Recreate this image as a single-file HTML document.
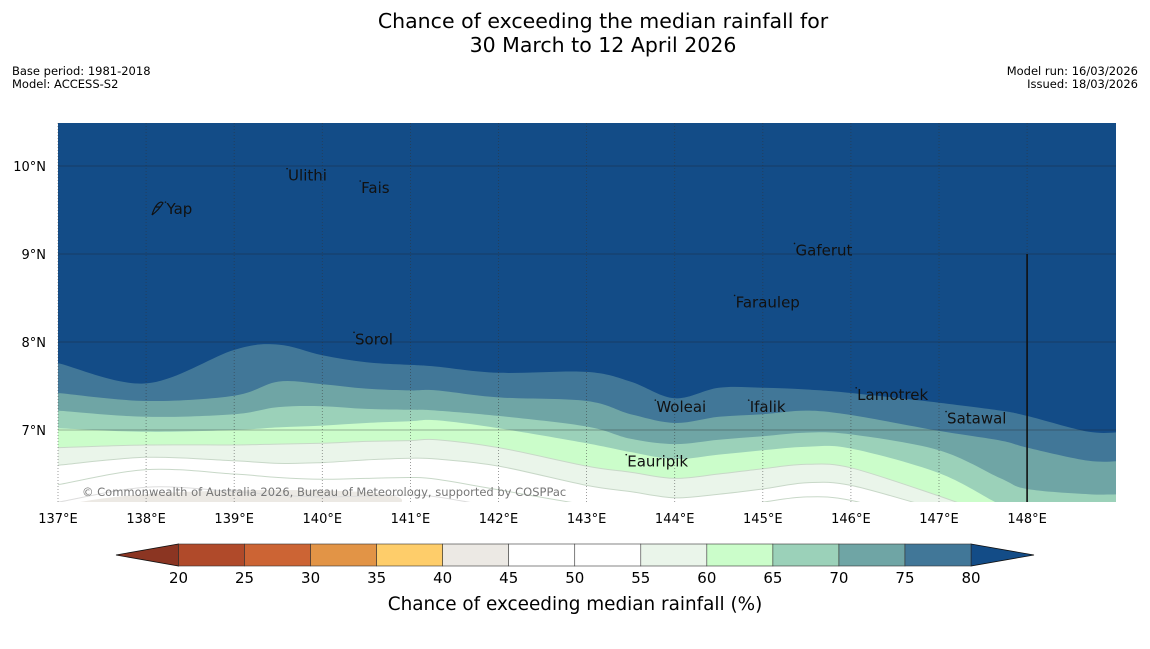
<!DOCTYPE html>
<html><head><meta charset="utf-8">
<style>
body{margin:0;background:#fff;font-family:"Liberation Sans","DejaVu Sans",sans-serif;}
svg text{font-family:"DejaVu Sans","Liberation Sans",sans-serif;}
</style></head>
<body>
<svg id="c" width="1150" height="644" xmlns="http://www.w3.org/2000/svg">
<rect width="1150" height="644" fill="#fff"/>
<text x="603" y="28" font-size="20.5" text-anchor="middle">Chance of exceeding the median rainfall for</text>
<text x="603" y="52" font-size="20.5" text-anchor="middle">30 March to 12 April 2026</text>
<text x="12" y="75" font-size="11.5">Base period: 1981-2018</text>
<text x="12" y="88" font-size="11.5">Model: ACCESS-S2</text>
<text x="1138" y="75" font-size="11.5" text-anchor="end">Model run: 16/03/2026</text>
<text x="1138" y="88" font-size="11.5" text-anchor="end">Issued: 18/03/2026</text>
<defs><clipPath id="mc"><rect x="58" y="123" width="1058" height="379"/></clipPath></defs>
<g id="map" clip-path="url(#mc)"></g>
<g id="over"></g>
<g id="cb"></g>
</svg>
<script>
const lineLons = [136.9,137,138,139,139.5,140,140.5,141,141.3,142,143,143.5,144,144.5,145,145.5,146,147,147.7,148,148.7,149.1];
const b80 = [7.77,7.76,7.53,7.91,7.97,7.85,7.77,7.74,7.72,7.65,7.66,7.55,7.36,7.48,7.48,7.46,7.42,7.31,7.22,7.16,6.98,6.98];
const b75 = [7.42,7.42,7.33,7.39,7.55,7.52,7.47,7.45,7.45,7.37,7.33,7.18,7.08,7.15,7.18,7.22,7.17,6.99,6.88,6.80,6.65,6.65];
const b70 = [7.22,7.22,7.15,7.18,7.26,7.27,7.24,7.23,7.22,7.16,7.04,6.90,6.84,6.89,6.93,6.97,6.95,6.77,6.45,6.33,6.27,6.27];
const b65 = [7.02,7.02,6.98,7.00,7.03,7.05,7.08,7.10,7.11,7.02,6.85,6.75,6.67,6.72,6.77,6.81,6.79,6.51,6.15,6.05,6.0,6.0];
const b60 = [6.80,6.80,6.83,6.83,6.84,6.85,6.87,6.88,6.89,6.80,6.59,6.52,6.45,6.50,6.56,6.61,6.57,6.25,6.0,5.95,5.9,5.9];
const b55 = [6.60,6.60,6.69,6.65,6.62,6.63,6.66,6.68,6.67,6.59,6.37,6.30,6.23,6.27,6.33,6.40,6.37,6.10,5.95,5.9,5.9,5.9];
const b50 = [6.38,6.38,6.55,6.50,6.46,6.44,6.45,6.46,6.44,6.32,6.15,6.10,6.05,6.10,6.18,6.24,6.20,5.95,5.9,5.9,5.9,5.9];
const bandColors = ["#134c87","#417798","#6fa5a5","#9bd1b9","#cbfdca","#eaf5ea","#ffffff","#ffffff"];
const lonTicks = [137,138,139,140,141,142,143,144,145,146,147,148];
const latTicks = [7,8,9,10];
const places = ["Yap","Ulithi","Fais","Gaferut","Faraulep","Sorol","Lamotrek","Woleai","Ifalik","Satawal","Eauripik"];
const placeLon = [138.22,139.60,140.43,145.36,144.68,140.36,146.06,143.78,144.84,147.08,143.45];
const placeLat = [9.51,9.89,9.75,9.04,8.45,8.03,7.40,7.26,7.26,7.13,6.64];
const cbLevels = [20,25,30,35,40,45,50,55,60,65,70,75,80];
const cbColors = ["#b04a2a","#cc6434","#e29446","#fecd6a","#ece9e4","#ffffff","#ffffff","#eaf5ea","#cbfdca","#9bd1b9","#6fa5a5","#417798"];

const NS="http://www.w3.org/2000/svg";
const X = lon => 58 + (lon-137)*88.1;
const Y = lat => 166 + (10-lat)*88;
function mk(tag, attrs, parent){const e=document.createElementNS(NS,tag);for(const k in attrs)e.setAttribute(k,attrs[k]);parent.appendChild(e);return e;}
function smooth(pts){ // catmull-rom -> bezier, returns path segments after first point
  let d='';
  for(let i=0;i<pts.length-1;i++){
    const p0=pts[Math.max(0,i-1)],p1=pts[i],p2=pts[i+1],p3=pts[Math.min(pts.length-1,i+2)];
    const c1=[p1[0]+(p2[0]-p0[0])/6,p1[1]+(p2[1]-p0[1])/6];
    const c2=[p2[0]-(p3[0]-p1[0])/6,p2[1]-(p3[1]-p1[1])/6];
    d+=`C${c1[0].toFixed(1)},${c1[1].toFixed(1)} ${c2[0].toFixed(1)},${c2[1].toFixed(1)} ${p2[0].toFixed(1)},${p2[1].toFixed(1)} `;
  }
  return d;
}
const map=document.getElementById('map'), over=document.getElementById('over'), cb=document.getElementById('cb');
let bg=mk('rect',{x:58,y:123,width:1058,height:379,fill:'#ffffff'},map);


let beige=mk('path',{d:`M${X(137.25)},502 Q${X(138)},490 ${X(139.5)},490 T${X(140.9)},502 Z`,fill:'#ece9e4'},map);


const lines=[b80,b75,b70,b65,b60,b55,b50];
const names=['band-above-80','band-75-80','band-70-75','band-65-70','band-60-65','band-55-60','band-50-55'];
const order=[6,5,4,3,2,1,0];
for(const i of order){
  const L=lines[i];
  const pts=lineLons.map((lo,j)=>[X(lo),Y(L[j])]);
  let d=`M${pts[0][0].toFixed(1)},100 L${pts[0][0].toFixed(1)},${pts[0][1].toFixed(1)} `+smooth(pts)+`L${pts[pts.length-1][0].toFixed(1)},100 Z`;
  const p=mk('path',{d:d,fill:bandColors[i],stroke:i>=4?'#c8d8c8':'none','stroke-width':1},map);
  
  
}
{ const pts=lineLons.map((lo,j)=>[X(lo),Y(b50[j]-0.2)]);
  const p=mk('path',{d:`M${pts[0][0]},${pts[0][1]} `+smooth(pts),fill:'none',stroke:'#dddddd','stroke-width':1},map);
  
   }
lonTicks.forEach(lo=>{
  const l=mk('line',{x1:X(lo),x2:X(lo),y1:123,y2:502,stroke:'#333','stroke-width':0.8,'stroke-dasharray':'1,2','stroke-opacity':0.6},over);
  
  
  const t=mk('text',{x:X(lo),y:523,'font-size':13,'text-anchor':'middle'},over);
  t.textContent=lo+'°E';
  
  
});
latTicks.forEach(la=>{
  const l=mk('line',{x1:58,x2:1116,y1:Y(la),y2:Y(la),stroke:'#222','stroke-width':0.8,'stroke-opacity':0.45},over);
  
  
  const t=mk('text',{x:46,y:Y(la)+5,'font-size':13,'text-anchor':'end'},over);
  t.textContent=la+'°N';
  
  
});
{const l=mk('line',{x1:X(148),x2:X(148),y1:Y(9),y2:502,stroke:'#111','stroke-width':1.6},over);

}
places.forEach((n,i)=>{
  const t=mk('text',{x:X(placeLon[i])+1,y:Y(placeLat[i])+5,'font-size':15,fill:'#111'},over);
  t.textContent=n;
  
  
  const d=mk('circle',{cx:X(placeLon[i]),cy:Y(placeLat[i])-7,r:0.8,fill:'#111'},over);
  
  
});
{const p=mk('path',{d:'M152,215 C155,205 160,200 163,203 C160,208 156,212 152,215 M156,207 l4,0',fill:'none',stroke:'#111','stroke-width':1.2},over);

}
{const t=mk('text',{x:82,y:496,'font-size':11.5,fill:'#777'},over);
t.textContent='© Commonwealth of Australia 2026, Bureau of Meteorology, supported by COSPPac';

}
const CX=v=>178.5+(v-20)*(792.5/60);
{const p=mk('path',{d:`M116,555 L178.5,544 L178.5,566 Z`,fill:'#8b3522',stroke:'#111','stroke-width':0.8},cb);


const q=mk('path',{d:`M971,544 L1034,555 L971,566 Z`,fill:'#134c87',stroke:'#111','stroke-width':0.8},cb);

}
cbColors.forEach((c,i)=>{
  const r=mk('rect',{x:CX(cbLevels[i]),y:544,width:CX(cbLevels[i+1])-CX(cbLevels[i]),height:22,fill:c,stroke:'#333','stroke-width':0.6},cb);
  
  
});
cbLevels.forEach(v=>{
  const t=mk('text',{x:CX(v),y:583,'font-size':15,'text-anchor':'middle'},cb);
  t.textContent=v;
  
  
});
{const t=mk('text',{x:575,y:610,'font-size':18.4,'text-anchor':'middle'},cb);
t.textContent='Chance of exceeding median rainfall (%)';

}
</script>
</body></html>
